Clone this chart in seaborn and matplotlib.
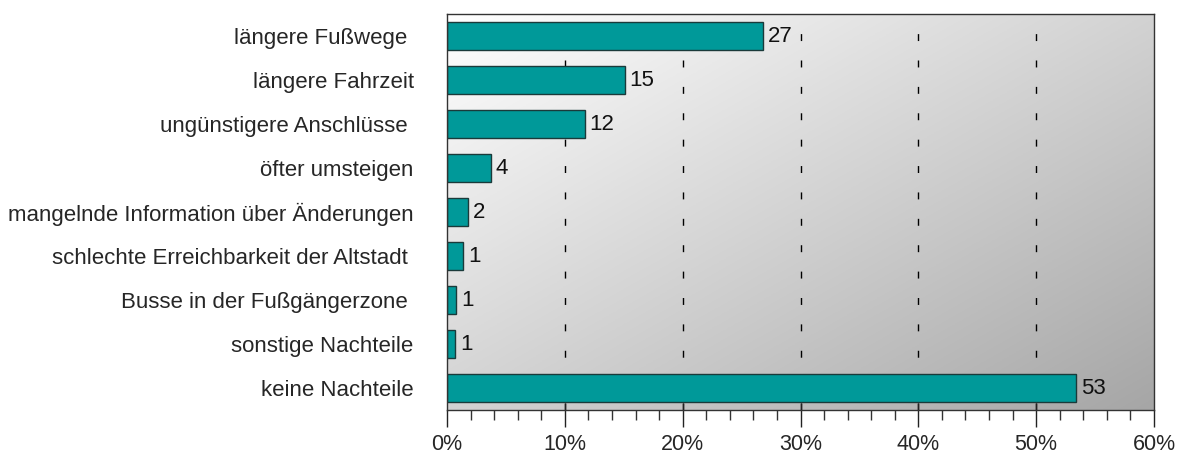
import numpy as np
import matplotlib
matplotlib.use("Agg")
import matplotlib.pyplot as plt
import matplotlib.transforms as mtransforms
from matplotlib.colors import LinearSegmentedColormap
from matplotlib.ticker import MultipleLocator, FuncFormatter
import seaborn as sns

# data (percent of respondents)
categories = [
    "längere Fußwege ",
    "längere Fahrzeit",
    "ungünstigere Anschlüsse ",
    "öfter umsteigen",
    "mangelnde Information über Änderungen",
    "schlechte Erreichbarkeit der Altstadt ",
    "Busse in der Fußgängerzone ",
    "sonstige Nachteile",
    "keine Nachteile",
]
shares = [26.8, 15.1, 11.7, 3.7, 1.8, 1.4, 0.8, 0.7, 53.4]
value_labels = ["27", "15", "12", "4", "2", "1", "1", "1", "53"]

sns.set_style("white")
plt.rcParams["font.family"] = ["Liberation Sans", "DejaVu Sans"]

fig = plt.figure(figsize=(11.78, 4.54), dpi=100)
ax = fig.add_axes([447 / 1178, 1 - 410 / 454, 707 / 1178, 396 / 454])

# gradient background: light top-left to grey bottom-right
gx, gy = np.meshgrid(np.linspace(0, 1, 300), np.linspace(0, 1, 300))
grad = (gx + gy) / 2
bg_cmap = LinearSegmentedColormap.from_list("bg", ["#ffffff", "#a6a6a6"])
ax.imshow(grad, cmap=bg_cmap, extent=[0, 1, 0, 1], transform=ax.transAxes,
          aspect="auto", zorder=0, interpolation="bilinear")

# dashed vertical grid
for gxv in range(10, 60, 10):
    ax.axvline(gxv, color="black", linewidth=1, linestyle=(0, (5, 14)), zorder=1)

sns.barplot(x=shares, y=categories, orient="h", color="#009999",
            edgecolor="#1a3a3a", linewidth=1, width=0.64, saturation=1,
            ax=ax, zorder=2)

for i, (v, lab) in enumerate(zip(shares, value_labels)):
    ax.text(v + 0.4, i, lab, va="center", ha="left", fontsize=16, color="#111111", zorder=3)

ax.set_xlim(0, 60)
ax.set_ylim(8.5, -0.5)
ax.xaxis.set_major_locator(MultipleLocator(10))
ax.xaxis.set_minor_locator(MultipleLocator(2))
ax.xaxis.set_major_formatter(FuncFormatter(lambda x, p: f"{x:.0f}%"))
ax.tick_params(axis="x", which="both", bottom=True)
ax.tick_params(axis="x", which="major", direction="out", length=12, width=1,
               labelsize=15.5, pad=5, color="#222222")
ax.tick_params(axis="x", which="minor", direction="out", length=7, width=1, color="#333333")
ax.tick_params(axis="y", which="both", left=False)
ax.tick_params(axis="y", which="major", length=0, labelsize=16, pad=24)

# short inner part of the major x ticks
trans = mtransforms.blended_transform_factory(ax.transData, ax.transAxes)
ax.vlines(range(10, 60, 10), 0, 7 / 396, transform=trans, color="#222222",
          linewidth=1, zorder=4)

ax.set_xlabel("")
ax.set_ylabel("")
ax.grid(False)
for sp in ax.spines.values():
    sp.set_visible(True)
    sp.set_color("#333333")
    sp.set_linewidth(1)

fig.savefig("out.png", dpi=100)
